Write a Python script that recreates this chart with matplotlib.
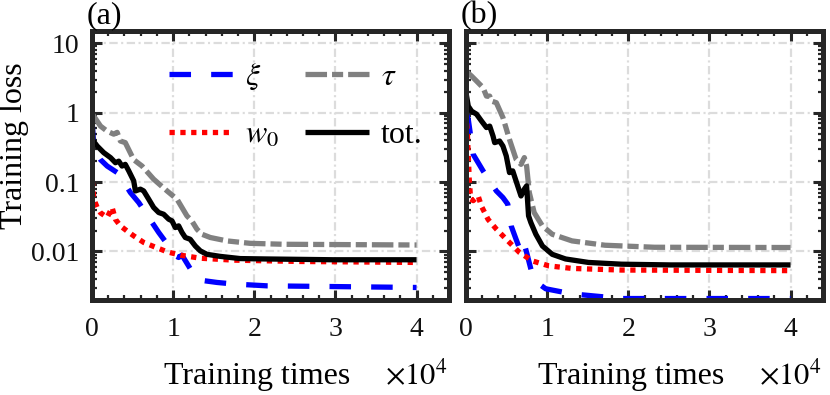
import matplotlib
matplotlib.use("Agg")
import matplotlib.pyplot as plt
from matplotlib.ticker import FixedLocator, LogLocator, NullFormatter

plt.rcParams['font.family'] = ['Liberation Serif', 'DejaVu Serif']
plt.rcParams['mathtext.fontset'] = 'stix'
plt.rcParams['lines.scale_dashes'] = False

# ---------------- data (training times in units of 1e4) ----------------
# panel (a)
a_tot_x = [0, 0.01, 0.064, 0.145, 0.228, 0.289, 0.33, 0.37, 0.41, 0.453, 0.514, 0.535, 0.597, 0.637,
           0.699, 0.76, 0.822, 0.883, 0.945, 0.986, 1.027, 1.068, 1.109, 1.15, 1.21, 1.273, 1.335,
           1.417, 1.58, 1.827, 2.155, 2.97, 4.0]
a_tot_y = [1.0, 0.40, 0.33, 0.265, 0.225, 0.19, 0.20, 0.17, 0.18, 0.145, 0.104, 0.0745, 0.079, 0.0745,
           0.0566, 0.043, 0.0364, 0.0344, 0.0292, 0.0276, 0.0221, 0.0234, 0.0188, 0.0159, 0.015, 0.012,
           0.0102, 0.0091, 0.0085, 0.0079, 0.0078, 0.0076, 0.0076]

a_tau_x = [0, 0.105, 0.187, 0.268, 0.31, 0.35, 0.41, 0.514, 0.617, 0.76, 0.925, 1.048, 1.17, 1.23,
           1.294, 1.355, 1.458, 1.663, 1.95, 2.36, 4.0]
a_tau_y = [0.97, 0.64, 0.54, 0.49, 0.52, 0.39, 0.37, 0.21, 0.17, 0.11, 0.0745, 0.0566, 0.0326, 0.0276,
           0.0209, 0.0177, 0.0159, 0.0142, 0.0131, 0.0127, 0.0124]

a_xi_x = [0, 0.022, 0.105, 0.187, 0.31, 0.37, 0.473, 0.576, 0.699, 0.822, 0.945, 1.027, 1.068, 1.109,
          1.23, 1.294, 1.376, 1.54, 1.745, 2.155, 4.0]
a_xi_y = [0.8, 0.30, 0.21, 0.17, 0.137, 0.11, 0.0706, 0.0507, 0.0309, 0.0188, 0.012, 0.00865, 0.0082,
          0.00885, 0.0052, 0.0042, 0.0038, 0.00358, 0.0034, 0.0032, 0.00303]

a_w0_x = [0, 0.001, 0.002, 0.022, 0.064, 0.105, 0.187, 0.248, 0.289, 0.35, 0.43, 0.514, 0.637, 0.76,
          0.925, 1.09, 1.335, 1.745, 2.565, 4.0]
a_w0_y = [0.9, 0.33, 0.11, 0.057, 0.043, 0.036, 0.031, 0.043, 0.029, 0.0234, 0.0198, 0.0168, 0.0135,
          0.0118, 0.0099, 0.00885, 0.008, 0.0075, 0.00718, 0.00695]

# panel (b)
b_tot_x = [0, 0.028, 0.069, 0.13, 0.19, 0.252, 0.292, 0.333, 0.353, 0.414, 0.455, 0.496, 0.536, 0.576,
           0.637, 0.678, 0.719, 0.747, 0.771, 0.8, 0.861, 0.942, 1.063, 1.227, 1.51, 1.916, 2.525, 4.0]
b_tot_y = [1.94, 1.24, 1.05, 0.95, 0.76, 0.61, 0.64, 0.46, 0.37, 0.39, 0.33, 0.238, 0.137, 0.145,
           0.088, 0.063, 0.079, 0.088, 0.0326, 0.026, 0.0177, 0.012, 0.0091, 0.0078, 0.00695, 0.00656,
           0.0064, 0.0064]

b_tau_x = [0, 0.069, 0.13, 0.21, 0.252, 0.292, 0.313, 0.374, 0.455, 0.536, 0.617, 0.678, 0.719, 0.747,
           0.78, 0.84, 0.942, 1.063, 1.307, 1.714, 2.323, 4.0]
b_tau_y = [3.97, 3.36, 2.85, 2.29, 1.73, 1.73, 1.47, 1.39, 0.85, 0.41, 0.213, 0.18, 0.225, 0.17,
           0.0706, 0.0364, 0.0233, 0.0177, 0.0142, 0.0123, 0.0115, 0.0114]

b_xi_x = [0, 0.028, 0.049, 0.089, 0.15, 0.21, 0.292, 0.374, 0.455, 0.515, 0.557, 0.617, 0.678, 0.719,
          0.747, 0.82, 0.90, 0.983, 1.307, 1.916, 4.0]
b_xi_y = [1.0, 0.8, 0.54, 0.25, 0.19, 0.145, 0.104, 0.0745, 0.0598, 0.048, 0.0233, 0.015, 0.0097,
          0.0127, 0.0097, 0.0045, 0.0034, 0.0029, 0.00245, 0.0021, 0.0021]

b_w0_x = [0, 0.016, 0.028, 0.04, 0.057, 0.089, 0.15, 0.19, 0.272, 0.374, 0.496, 0.658, 0.82, 1.023,
          1.307, 1.916, 4.0]
b_w0_y = [1.0, 0.52, 0.238, 0.11, 0.057, 0.054, 0.063, 0.045, 0.029, 0.021, 0.015, 0.0097, 0.0073,
          0.0062, 0.0057, 0.0054, 0.0053]

panels = [
    dict(tag='(a)', xi=(a_xi_x, a_xi_y), w0=(a_w0_x, a_w0_y), tau=(a_tau_x, a_tau_y), tot=(a_tot_x, a_tot_y)),
    dict(tag='(b)', xi=(b_xi_x, b_xi_y), w0=(b_w0_x, b_w0_y), tau=(b_tau_x, b_tau_y), tot=(b_tot_x, b_tot_y)),
]
x_ticks = [0, 1, 2, 3, 4]
x_ticklabels = ['0', '1', '2', '3', '4']
y_ticks = [0.01, 0.1, 1, 10]
y_ticklabels = ['0.01', '0.1', '1', '10']
legend_labels = dict(xi=r'$\xi$', w0=r'$w_0$', tau=r'$\tau$', tot='tot.')

# ---------------- styling ----------------
W, H = 830, 395
fig = plt.figure(figsize=(W / 100, H / 100), dpi=100)
spine_c = '#262626'
lw = 3.8
styles = dict(
    xi=dict(color='#0000ff', lw=lw, linestyle=(0, (15.5, 14.5))),
    w0=dict(color='#ff0000', lw=lw, linestyle=(0, (3.8, 4.0))),
    tau=dict(color='#808080', lw=lw, linestyle=(0, (15.5, 3.6, 8.0, 3.6))),
    tot=dict(color='#000000', lw=lw, linestyle='-'),
)

ax_left = [92, 466]
ax_w, ax_top, ax_bot = 357, 31, 300
for i, p in enumerate(panels):
    ax = fig.add_axes([ax_left[i] / W, 1 - ax_bot / H, ax_w / W, (ax_bot - ax_top) / H])
    ax.set_yscale('log')
    ax.set_xlim(0, 4.4)
    ax.set_ylim(0.002, 15)
    ax.set_axisbelow(True)
    handles = {}
    for key in ['xi', 'w0', 'tau', 'tot']:
        xs, ys = p[key]
        st = styles[key]
        (h,) = ax.plot(xs, ys, color=st['color'], lw=st['lw'], linestyle=st['linestyle'],
                       solid_capstyle='butt', dash_capstyle='butt', label=legend_labels[key],
                       zorder=3 if key != 'tot' else 4, clip_on=True)
        handles[key] = h
    ax.xaxis.set_major_locator(FixedLocator(x_ticks))
    ax.set_xticklabels(x_ticklabels)
    ax.xaxis.set_minor_locator(FixedLocator([k * 0.2 for k in range(23)]))
    ax.yaxis.set_major_locator(FixedLocator(y_ticks))
    ax.yaxis.set_minor_locator(LogLocator(base=10, subs=range(2, 10), numticks=20))
    ax.yaxis.set_minor_formatter(NullFormatter())
    if i == 0:
        ax.set_yticklabels(y_ticklabels)
    else:
        ax.set_yticklabels([])
    ax.grid(True, which='major', color='#dcdcdc', lw=1.6, linestyle=(0, (6, 2.5, 1.5, 2.5)))
    for s in ax.spines.values():
        s.set_linewidth(3.6)
        s.set_color(spine_c)
        s.set_zorder(5)
    ax.tick_params(which='both', direction='in', top=True, right=True, colors=spine_c,
                   labelcolor='#111111', labelsize=20)
    ax.tick_params(which='major', length=7.5, width=2.2, pad=12)
    ax.tick_params(which='minor', length=3.8, width=1.6)
    ax.tick_params(axis='y', which='major', pad=9)

    # panel tag
    fig.text((ax_left[i] - 5) / W, 1 - 23 / H, p['tag'], fontsize=23, ha='left', va='baseline')
    # x label and multiplier
    fig.text((ax_left[i] + 165) / W, 1 - 384 / H, 'Training times', fontsize=23,
             ha='center', va='baseline')
    fig.text((ax_left[i] + 293) / W, 1 - 385 / H, r'$\times 10^4$', fontsize=22,
             ha='left', va='baseline')

    if i == 0:
        ax.legend([handles['xi'], handles['w0'], handles['tau'], handles['tot']],
                  [legend_labels['xi'], legend_labels['w0'], legend_labels['tau'], legend_labels['tot']],
                  ncol=2, loc='upper left', bbox_to_anchor=(0.215, 0.886), frameon=False,
                  fontsize=23, handlelength=2.0, handletextpad=0.38, columnspacing=0.82,
                  labelspacing=0.9, borderpad=0, borderaxespad=0)

fig.text(15 / W, 1 - 146 / H, 'Training loss', fontsize=23, rotation=90, ha='center', va='center')

fig.savefig('out.png', dpi=100)
